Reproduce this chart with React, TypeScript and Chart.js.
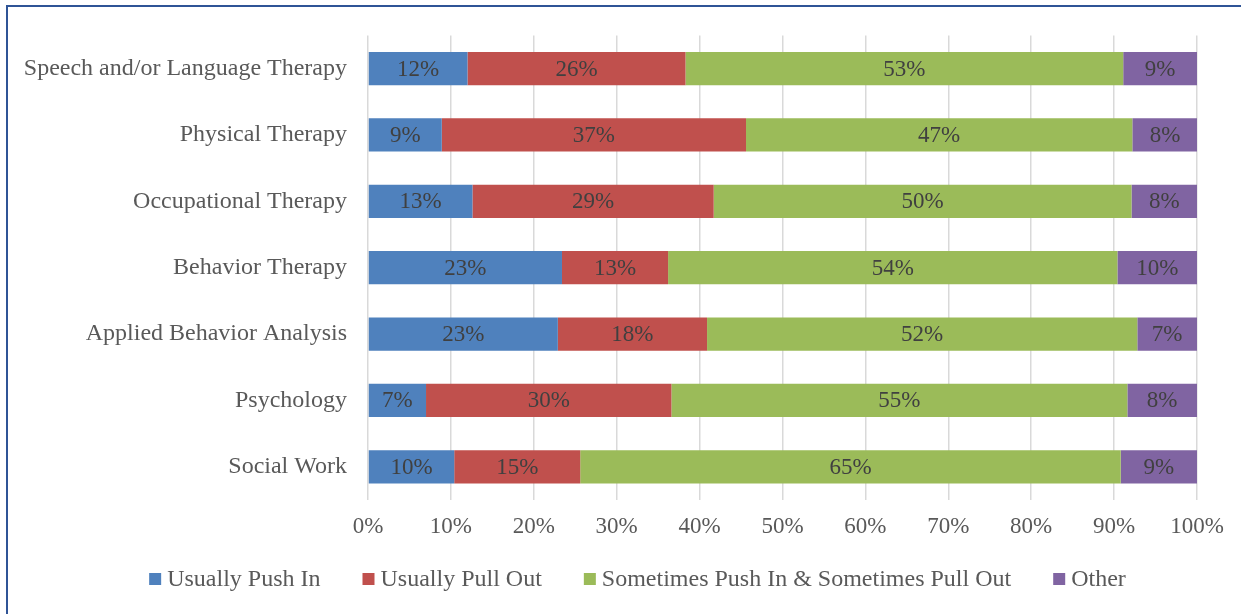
import React, { useEffect, useRef } from "react";
import { Chart, registerables } from "chart.js";

Chart.register(...registerables);

const categories = [
  "Speech and/or Language Therapy",
  "Physical Therapy",
  "Occupational Therapy",
  "Behavior Therapy",
  "Applied Behavior Analysis",
  "Psychology",
  "Social Work",
];

const pushIn = [12.0, 8.9, 12.6, 23.4, 22.9, 7.0, 10.4];
const pullOut = [26.3, 36.7, 29.1, 12.8, 18.0, 29.6, 15.2];
const sometimes = [52.8, 46.6, 50.4, 54.2, 51.9, 55.0, 65.2];
const other = [8.9, 7.9, 7.9, 9.6, 7.2, 8.4, 9.2];

const seriesNames = [
  "Usually Push In",
  "Usually Pull Out",
  "Sometimes Push In & Sometimes Pull Out",
  "Other",
];
const seriesColors = ["#4F81BD", "#C0504D", "#9BBB59", "#8064A2"];
const xTicks = [0, 10, 20, 30, 40, 50, 60, 70, 80, 90, 100];

const FONT = '"Liberation Serif", "Times New Roman", serif';

const dataLabelPlugin = {
  id: "dataLabels",
  afterDatasetsDraw(chart: any) {
    const ctx = chart.ctx;
    ctx.save();
    ctx.font = `23px ${FONT}`;
    ctx.fillStyle = "#404040";
    ctx.textAlign = "center";
    ctx.textBaseline = "middle";
    chart.data.datasets.forEach((ds: any, i: number) => {
      const meta = chart.getDatasetMeta(i);
      meta.data.forEach((bar: any, j: number) => {
        const v = ds.data[j];
        const cx = (bar.x + bar.base) / 2;
        ctx.fillText(Math.round(v) + "%", cx, bar.y + 1);
      });
    });
    ctx.restore();
  },
};

// Legend drawn on the canvas in the reference's Office style:
// 12px square, 6px gap to text, 42px gap between items.
const legendPlugin = {
  id: "officeLegend",
  afterDraw(chart: any) {
    const ctx = chart.ctx;
    ctx.save();
    ctx.font = `24px ${FONT}`;
    ctx.textBaseline = "middle";
    ctx.textAlign = "left";
    const box = 12;
    const gap = 6;
    const itemGap = 42;
    const items = chart.data.datasets.map((ds: any) => ({
      text: ds.label,
      color: ds.backgroundColor,
      w: ctx.measureText(ds.label).width,
    }));
    const total =
      items.reduce((s: number, it: any) => s + box + gap + it.w, 0) +
      itemGap * (items.length - 1);
    const centerX = chart.width / 2 + 17;
    const cy = chart.height - 35;
    let x = centerX - total / 2;
    items.forEach((it: any) => {
      ctx.fillStyle = it.color;
      ctx.fillRect(x, cy - box / 2, box, box);
      ctx.fillStyle = "#595959";
      ctx.fillText(it.text, x + box + gap, cy + 1);
      x += box + gap + it.w + itemGap;
    });
    ctx.restore();
  },
};

export default function App() {
  const ref = useRef<HTMLCanvasElement | null>(null);

  useEffect(() => {
    if (!ref.current) return;
    const values = [pushIn, pullOut, sometimes, other];
    const chart = new Chart(ref.current, {
      type: "bar",
      data: {
        labels: categories,
        datasets: values.map((d, i) => ({
          label: seriesNames[i],
          data: d,
          backgroundColor: seriesColors[i],
          borderWidth: 0,
          barPercentage: 0.5,
          categoryPercentage: 1,
        })),
      },
      options: {
        indexAxis: "y",
        animation: false,
        responsive: true,
        maintainAspectRatio: false,
        layout: { padding: { top: 34, right: 44, left: 20, bottom: 73 } },
        plugins: {
          tooltip: { enabled: false },
          legend: { display: false },
        },
        scales: {
          x: {
            stacked: true,
            min: 0,
            max: 100,
            afterBuildTicks: (scale: any) => {
              scale.ticks = xTicks.map((v) => ({ value: v }));
            },
            afterFit: (scale: any) => {
              scale.height = 41;
            },
            ticks: {
              callback: (v: any) => v + "%",
              color: "#595959",
              font: { family: FONT, size: 23 },
              padding: 13,
              maxRotation: 0,
            },
            grid: { color: "#D9D9D9", lineWidth: 1.5, drawTicks: false },
            border: { display: false },
          },
          y: {
            stacked: true,
            afterFit: (scale: any) => {
              scale.width = 348;
            },
            ticks: {
              color: "#595959",
              font: { family: FONT, size: 24 },
              padding: 21,
            },
            grid: { display: false, drawTicks: false },
            border: { display: false },
          },
        },
      },
      plugins: [dataLabelPlugin, legendPlugin],
    } as any);
    return () => chart.destroy();
  }, []);

  return (
    <div
      style={{
        position: "fixed",
        left: 0,
        top: 0,
        width: 1241,
        height: 614,
        background: "#FFFFFF",
        overflow: "hidden",
      }}
    >
      <div
        style={{
          position: "absolute",
          left: 6,
          top: 5,
          width: 1400,
          height: 800,
          border: "2px solid #2F5496",
          boxSizing: "border-box",
        }}
      />
      <div style={{ position: "absolute", left: 0, top: 0, width: 1241, height: 614 }}>
        <canvas ref={ref} />
      </div>
    </div>
  );
}
